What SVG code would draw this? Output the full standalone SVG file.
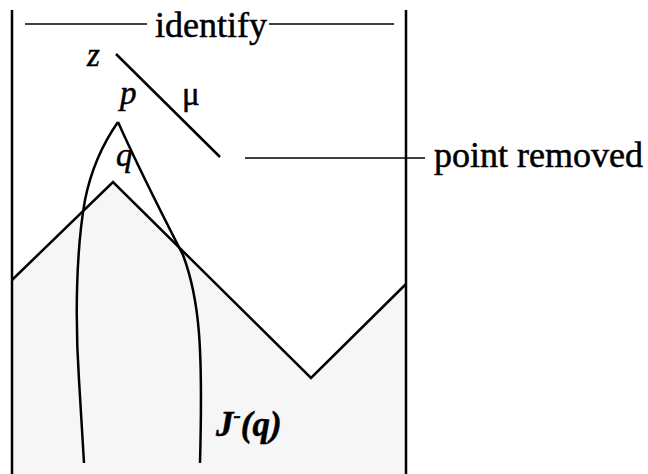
<svg xmlns="http://www.w3.org/2000/svg" width="648" height="474" viewBox="0 0 648 474">
<style>
.ln{fill:none;stroke:#000;stroke-width:2.5;stroke-linecap:butt}
.thin{fill:none;stroke:#000;stroke-width:1.4}
.t{font-family:"Liberation Serif","Times New Roman",serif;fill:#000;stroke:#000;stroke-width:0.5}
.it{font-style:italic}
</style>
<rect width="648" height="474" fill="#fff"/>
<g id="region">
<polygon points="12,280 113,182 311,378 406,284 406,474 12,474" fill="#f6f6f6"/>
</g>
<g id="walls">
<line class="ln" x1="12" y1="10" x2="12" y2="474"/>
<line class="ln" x1="406" y1="10" x2="406" y2="474"/>
</g>
<g id="connectors">
<polyline class="ln" points="12,280 113,182 311,378 406,284"/>
<line class="ln" x1="116" y1="54" x2="220" y2="157"/>
<path class="ln" d="M118,122 C104,142 92,165 85,200 C76,250 75,320 79,380 L84,463"/>
<path class="ln" d="M118,122 C135,160 165,220 183,255 C200,300 203,350 200,463"/>
<line class="thin" x1="25" y1="24" x2="147" y2="24"/>
<line class="thin" x1="269" y1="24" x2="394" y2="24"/>
<line class="thin" x1="245" y1="158" x2="425" y2="158"/>
</g>
<g id="labels">
<text class="t" x="155" y="37" font-size="36">identify</text>
<text class="t" x="434" y="167" font-size="36">point removed</text>
<text class="t it" x="87" y="66" font-size="33">z</text>
<text class="t it" x="120" y="104" font-size="33">p</text>
<text class="t" x="182" y="105" font-size="33">μ</text>
<text class="t it" x="116" y="166" font-size="33">q</text>
<text class="t it" x="216" y="436" font-size="35" font-weight="bold">J<tspan font-size="22" dy="-14">-</tspan><tspan dy="14">(q)</tspan></text>
</g>
</svg>
